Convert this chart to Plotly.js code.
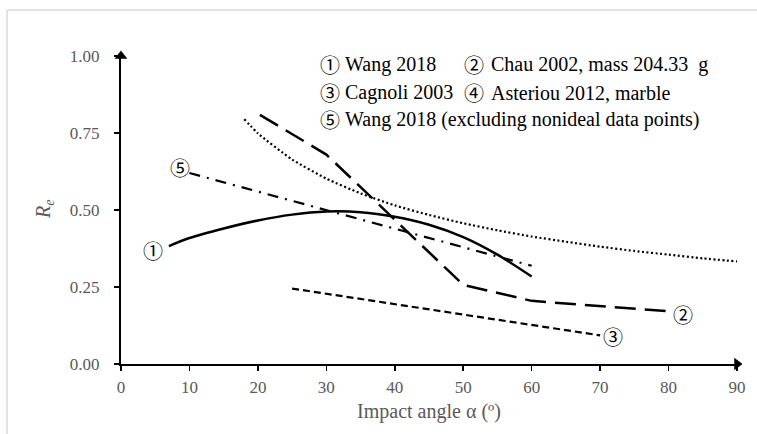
<!DOCTYPE html>
<html>
<head>
<meta charset="utf-8">
<script src="https://cdn.plot.ly/plotly-3.0.1.min.js"></script>
<style>
  html, body { margin: 0; padding: 0; background: #fff; }
  #chart { width: 757px; height: 434px; }
</style>
</head>
<body>
<div id="chart"></div>
<script>
// Restitution coefficient R_e versus impact angle, five published relations

// ① Wang 2018
const wangX = [7, 10, 15, 20, 25, 30, 35, 40, 45, 50, 55, 60];
const wangY = [0.383, 0.409, 0.440, 0.466, 0.485, 0.495, 0.493, 0.478, 0.452, 0.412, 0.355, 0.284];

// ② Chau 2002, mass 204.33 g
const chauX = [20.3, 30, 50, 60, 80];
const chauY = [0.809, 0.68, 0.257, 0.205, 0.171];

// ③ Cagnoli 2003
const cagnoliX = [25, 70];
const cagnoliY = [0.245, 0.093];

// ④ Asteriou 2012, marble
const asteriouX = [18, 20, 25, 30, 35, 40, 45, 50, 55, 60, 65, 70, 75, 80, 85, 90];
const asteriouY = [0.795, 0.749, 0.664, 0.602, 0.554, 0.515, 0.484, 0.457, 0.434, 0.414, 0.397, 0.381, 0.367, 0.355, 0.343, 0.333];

// ⑤ Wang 2018 (excluding nonideal data points)
const wangExX = [10, 60];
const wangExY = [0.62, 0.319];

// Axis ticks
const xTicks = [0, 10, 20, 30, 40, 50, 60, 70, 80, 90];
const yTicks = [0, 0.25, 0.5, 0.75, 1.0];

// Curve tags and legend lines
const tagNames = ['①', '②', '③', '④', '⑤'];
const tagX = [4.7, 82.1, 71.9, 91.2, 8.6];
const tagY = [0.369, 0.162, 0.090, 0.328, 0.638];
const legendCol1 = [[0, 'Wang 2018'], [2, 'Cagnoli 2003'], [4, 'Wang 2018 (excluding nonideal data points)']];
const legendCol2 = [[1, 'Chau 2002, mass 204.33&nbsp; g'], [3, 'Asteriou 2012, marble']];

const SERIF = 'Liberation Serif';
const CIRC = 'Noto Sans CJK JP';
const GRAY = '#595959';

const traces = [
  { x: wangX, y: wangY, mode: 'lines', line: { color: '#000', width: 2.5, shape: 'spline', smoothing: 0.8 } },
  { x: chauX, y: chauY, mode: 'lines', line: { color: '#000', width: 2.5, dash: '21px,9px' } },
  { x: cagnoliX, y: cagnoliY, mode: 'lines', line: { color: '#000', width: 2.2, dash: '7px,4px' } },
  { x: asteriouX, y: asteriouY, mode: 'lines', line: { color: '#000', width: 2.2, dash: '2px,2.5px', shape: 'spline', smoothing: 0.6 } },
  { x: wangExX, y: wangExY, mode: 'lines', line: { color: '#000', width: 2.2, dash: '11px,7px,2px,7px' } },
  // arrowheads at the ends of both axes
  { x: [xTicks[xTicks.length - 1], 0], y: [0, yTicks[yTicks.length - 1]], mode: 'markers', cliponaxis: false,
    marker: { symbol: ['triangle-right', 'triangle-up'], size: 11, color: '#000', line: { width: 0 } } }
];

const annotations = [];

// tags beside each curve
tagNames.forEach((t, i) => annotations.push({
  x: tagX[i], y: tagY[i], xref: 'x', yref: 'y', text: t, showarrow: false,
  font: { family: CIRC, size: 20, color: '#000' }
}));

// text legend in two columns: circled number, then description
const rowsY = [0.971, 0.880, 0.795];
function legendRow(r, i, xCirc, xText) {
  annotations.push({
    x: xCirc, y: rowsY[i], xref: 'paper', yref: 'paper', xanchor: 'center', yanchor: 'middle',
    text: tagNames[r[0]], showarrow: false, font: { family: CIRC, size: 20, color: '#000' }
  });
  annotations.push({
    x: xText, y: rowsY[i], xref: 'paper', yref: 'paper', xanchor: 'left', yanchor: 'middle',
    text: r[1], showarrow: false, font: { family: SERIF, size: 20, color: '#000' }
  });
}
legendCol1.forEach((r, i) => legendRow(r, i, 0.340, 0.361));
legendCol2.forEach((r, i) => legendRow(r, i, 0.573, 0.598));

// y-axis title
annotations.push({
  x: -0.125, y: 0.5, xref: 'paper', yref: 'paper', xanchor: 'center', yanchor: 'middle', textangle: -90,
  text: '<i>R<sub>e</sub></i>', showarrow: false,
  font: { family: SERIF, size: 20, color: GRAY }
});

const layout = {
  width: 757, height: 434,
  margin: { l: 121, r: 20, t: 56, b: 70 },
  paper_bgcolor: '#fff', plot_bgcolor: '#fff',
  showlegend: false,
  xaxis: {
    range: [0, 90], tickvals: xTicks, ticktext: xTicks.map(String),
    showgrid: false, zeroline: false, showline: true, linecolor: '#000', linewidth: 2,
    ticks: 'outside', ticklen: 5, tickwidth: 1.5, tickcolor: '#000',
    ticklabelstandoff: 2,
    tickfont: { family: SERIF, size: 17, color: GRAY },
    title: { text: 'Impact angle α (º)', font: { family: SERIF, size: 20, color: GRAY }, standoff: 8 }
  },
  yaxis: {
    range: [0, 1], tickvals: yTicks, tickformat: '.2f',
    showgrid: false, zeroline: false, showline: true, linecolor: '#000', linewidth: 2,
    ticks: 'outside', ticklen: 5, tickwidth: 1.5, tickcolor: '#000',
    ticklabelstandoff: 11,
    tickfont: { family: SERIF, size: 17, color: GRAY }
  },
  annotations: annotations,
  shapes: [
    // light frame around the chart area
    { type: 'line', xref: 'paper', yref: 'paper', x0: -0.185, x1: -0.185, y0: 1.149, y1: -0.3,
      line: { color: '#d9d9d9', width: 1.5 } },
    { type: 'line', xref: 'paper', yref: 'paper', x0: -0.185, x1: 1.1, y0: 1.149, y1: 1.149,
      line: { color: '#d9d9d9', width: 1.5 } }
  ]
};

Plotly.newPlot('chart', traces, layout, { displayModeBar: false, staticPlot: true });
</script>
</body>
</html>
